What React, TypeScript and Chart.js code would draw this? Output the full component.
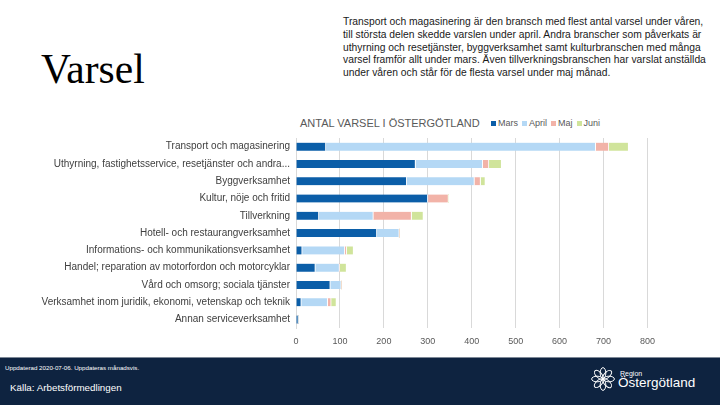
import React, { useEffect, useRef } from "react";
import { Chart, registerables } from "chart.js";

Chart.register(...registerables);

const categories = [
  "Transport och magasinering",
  "Uthyrning, fastighetsservice, resetjänster och andra...",
  "Byggverksamhet",
  "Kultur, nöje och fritid",
  "Tillverkning",
  "Hotell- och restaurangverksamhet",
  "Informations- och kommunikationsverksamhet",
  "Handel; reparation av motorfordon och motorcyklar",
  "Vård och omsorg; sociala tjänster",
  "Verksamhet inom juridik, ekonomi, vetenskap och teknik",
  "Annan serviceverksamhet",
];

const seriesNames = ["Mars", "April", "Maj", "Juni"];
const mars = [68, 272, 252, 300, 52, 184, 14, 44, 78, 12, 5];
const april = [614, 153, 154, 0, 124, 51, 97, 55, 25, 60, 0];
const maj = [30, 14, 14, 47, 87, 0, 4, 0, 0, 8, 0];
const juni = [45, 29, 11, 0, 27, 0, 16, 16, 0, 12, 0];
const seriesColors = ["#0b5ea8", "#b4d8f5", "#f2b3a8", "#d0e49b"];

const xMin = 0;
const xMax = 800;
const xStep = 100;

const titleText = "Varsel";
const paragraphLines = [
  "Transport och magasinering är den bransch med flest antal varsel under våren,",
  "till största delen skedde varslen under april. Andra branscher som påverkats är",
  "uthyrning och resetjänster, byggverksamhet samt kulturbranschen med många",
  "varsel framför allt under mars. Även tillverkningsbranschen har varslat anställda",
  "under våren och står för de flesta varsel under maj månad.",
];
const chartTitle = "ANTAL VARSEL I ÖSTERGÖTLAND";
const updatedText = "Uppdaterad 2020-07-06. Uppdateras månadsvis.";
const sourceText = "Källa: Arbetsförmedlingen";

const SANS = "'Liberation Sans', Arial, sans-serif";

function Logo() {
  const petals = [0, 45, 90, 135, 180, 225, 270, 315];
  return (
    <svg width="26" height="26" viewBox="0 0 24 24" style={{ position: "absolute", left: 590, top: 366 }}>
      {petals.map((a) => (
        <ellipse
          key={a}
          cx="12"
          cy="6.5"
          rx="2.6"
          ry="5"
          fill="none"
          stroke="#ffffff"
          strokeWidth="0.9"
          transform={`rotate(${a} 12 12)`}
        />
      ))}
    </svg>
  );
}

export default function App() {
  const ref = useRef<HTMLCanvasElement>(null);

  useEffect(() => {
    const datasets = [mars, april, maj, juni].map((d, i) => ({
      label: seriesNames[i],
      data: d,
      backgroundColor: seriesColors[i],
      borderColor: "#ffffff",
      borderWidth: { top: 0, bottom: 0, left: 0, right: 1 },
      borderSkipped: false as const,
      barThickness: 8,
    }));
    const chart = new Chart(ref.current as HTMLCanvasElement, {
      type: "bar",
      data: { labels: categories, datasets },
      options: {
        indexAxis: "y",
        responsive: false,
        maintainAspectRatio: false,
        animation: false,
        layout: { padding: { top: 7, right: 12, bottom: 0, left: 0 } },
        plugins: { legend: { display: false }, tooltip: { enabled: false } },
        scales: {
          x: {
            stacked: true,
            min: xMin,
            max: xMax,
            ticks: {
              stepSize: xStep,
              color: "#595959",
              font: { family: SANS, size: 9 },
              padding: 8,
            },
            grid: { color: "#d9d9d9", drawTicks: false },
            border: { display: false },
          },
          y: {
            stacked: true,
            ticks: {
              color: "#404040",
              font: { family: SANS, size: 10 },
              padding: 6,
              autoSkip: false,
            },
            grid: { display: false, drawTicks: false },
            border: { display: true, color: "#d9d9d9" },
            afterFit: (s: any) => {
              s.width = 296;
            },
          },
        },
      },
    });
    return () => chart.destroy();
  }, []);

  return (
    <div
      style={{
        position: "fixed",
        left: 0,
        top: 0,
        width: 720,
        height: 405,
        background: "#ffffff",
        overflow: "hidden",
        fontFamily: SANS,
      }}
    >
      <div
        style={{
          position: "absolute",
          left: 41,
          top: 46,
          fontFamily: "'Liberation Serif', 'Times New Roman', serif",
          fontSize: 41.5,
          lineHeight: "46px",
          color: "#000",
        }}
      >
        {titleText}
      </div>
      <div
        style={{
          position: "absolute",
          left: 343,
          top: 16,
          fontSize: 10.3,
          lineHeight: "12.8px",
          color: "#1a1a1a",
          whiteSpace: "pre",
        }}
      >
        {paragraphLines.join("\n")}
      </div>
      <div
        style={{
          position: "absolute",
          left: 300,
          top: 116,
          fontSize: 11,
          lineHeight: "14px",
          color: "#595959",
          whiteSpace: "nowrap",
        }}
      >
        {chartTitle}
      </div>
      <div
        style={{
          position: "absolute",
          left: 491,
          top: 117,
          display: "flex",
          alignItems: "center",
          fontSize: 9,
          lineHeight: "12px",
          color: "#595959",
          whiteSpace: "nowrap",
        }}
      >
        {seriesNames.map((n, i) => (
          <span key={n} style={{ display: "flex", alignItems: "center", marginRight: 4 }}>
            <span
              style={{
                display: "inline-block",
                width: 5,
                height: 5,
                background: seriesColors[i],
                marginRight: 2,
              }}
            />
            {n}
          </span>
        ))}
      </div>
      <canvas
        ref={ref}
        width={663}
        height={229}
        style={{ position: "absolute", left: 0, top: 126, width: 663, height: 229 }}
      />
      <div
        style={{
          position: "absolute",
          left: 0,
          top: 357,
          width: 720,
          height: 48,
          background: "#0e2340",
          borderTop: "1px solid #7d8896",
          boxSizing: "border-box",
        }}
      />
      <div
        style={{
          position: "absolute",
          left: 5,
          top: 363,
          fontSize: 6.2,
          lineHeight: "9px",
          color: "#ffffff",
          whiteSpace: "nowrap",
        }}
      >
        {updatedText}
      </div>
      <div
        style={{
          position: "absolute",
          left: 10,
          top: 382,
          fontSize: 9.8,
          lineHeight: "12px",
          color: "#ffffff",
          whiteSpace: "nowrap",
        }}
      >
        {sourceText}
      </div>
      <Logo />
      <div
        style={{
          position: "absolute",
          left: 620,
          top: 369,
          fontSize: 7,
          lineHeight: "9px",
          color: "#ffffff",
        }}
      >
        Region
      </div>
      <div
        style={{
          position: "absolute",
          left: 618,
          top: 375,
          fontSize: 13.5,
          lineHeight: "16px",
          color: "#ffffff",
          whiteSpace: "nowrap",
        }}
      >
        Östergötland
      </div>
    </div>
  );
}
